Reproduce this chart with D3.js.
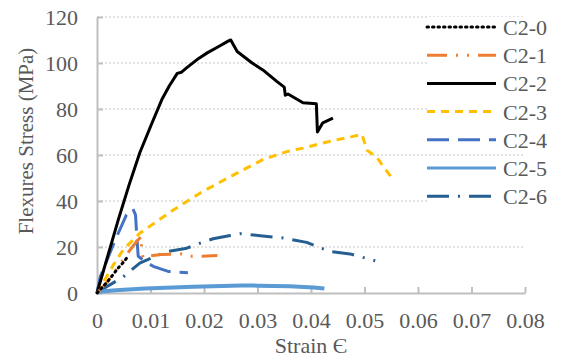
<!DOCTYPE html>
<html>
<head>
<meta charset="utf-8">
<script src="https://cdn.jsdelivr.net/npm/d3@7"></script>
<style>
  body { margin: 0; background: #fff; }
  text { font-family: "Liberation Serif", "Times New Roman", serif; fill: #595959; }
</style>
</head>
<body>
<svg width="562" height="358"></svg>
<script>
var names = ["C2-0", "C2-1", "C2-2", "C2-3", "C2-4", "C2-5", "C2-6"];
var colors = ["#000000", "#ED7D31", "#000000", "#FFC000", "#4472C4", "#5B9BD5", "#255E91"];
var dashes = ["1.5,4", "20,9,2,9,2,9", null, "8,6", "22,9", null, "22,9,2,9"];

var xTicks = [0, 0.01, 0.02, 0.03, 0.04, 0.05, 0.06, 0.07, 0.08];
var yTicks = [0, 20, 40, 60, 80, 100, 120];

/*strain, stress pairs*/
var c20 = [[0, 0], [0.001, 2.5], [0.002, 5], [0.003, 8], [0.004, 11], [0.005, 13.5], [0.0058, 16]];
var c21 = [[0, 0], [0.002, 5], [0.004, 11.6], [0.0058, 17.5], [0.0074, 22.4], [0.0083, 24.6], [0.0083, 19.7],
  [0.0086, 15.3], [0.0095, 16], [0.012, 16.7], [0.0158, 17], [0.017, 16], [0.0196, 16], [0.0225, 16.3]];
var c22 = [[0, 0], [0.002, 16], [0.004, 32], [0.006, 47], [0.008, 61], [0.0103, 74], [0.0121, 84], [0.0135, 90],
  [0.015, 95.5], [0.0158, 96], [0.0168, 98], [0.019, 102], [0.0206, 104.4], [0.023, 107.5], [0.0245, 109.5],
  [0.025, 110], [0.0262, 105], [0.029, 100], [0.031, 97], [0.0336, 92], [0.035, 89.5], [0.0352, 86],
  [0.0357, 86.5], [0.0385, 82.7], [0.041, 82.3], [0.0412, 70], [0.0422, 74], [0.0441, 76]];
var c23 = [[0, 0], [0.0011, 4.3], [0.003, 12], [0.0049, 18.8], [0.008, 26], [0.0142, 36], [0.0193, 43.5],
  [0.0249, 50.6], [0.031, 58], [0.0355, 61.5], [0.0385, 63], [0.0436, 66], [0.0477, 68], [0.0495, 69],
  [0.0505, 62], [0.0523, 59], [0.0535, 55], [0.0553, 49.5]];
var c24 = [[0, 0], [0.0006, 7], [0.0034, 23], [0.0055, 34], [0.0067, 36.6], [0.0072, 34], [0.0074, 26],
  [0.0077, 16], [0.009, 13.7], [0.0105, 11.6], [0.0133, 9.4], [0.017, 8.8]];
var c25 = [[0, 0], [0.0003, 0.5], [0.0035, 1.2], [0.009, 2], [0.018, 2.7], [0.027, 3.3], [0.03, 3.2],
  [0.036, 2.9], [0.0405, 2.4], [0.0425, 2]];
var c26 = [[0, 0], [0.002, 3], [0.0049, 7], [0.008, 13], [0.013, 18], [0.0168, 19.5], [0.0193, 21.7],
  [0.0217, 23.6], [0.0249, 25], [0.0267, 25.8], [0.0305, 24.9], [0.0348, 23.9], [0.0392, 22], [0.0413, 20.1],
  [0.0436, 18], [0.0473, 17], [0.052, 14]];
var series = [c20, c21, c22, c23, c24, c25, c26];

var svg = d3.select("svg"),
    plotLeft = 97, plotRight = 525, plotTop = 17, plotBottom = 293;

var x = d3.scaleLinear().domain([0, 0.08]).range([plotLeft, plotRight]);
var y = d3.scaleLinear().domain([0, 120]).range([plotBottom, plotTop]);

/*dotted grid*/
svg.append("g")
  .selectAll("line")
  .data(yTicks.slice(1))
  .enter().append("line")
    .attr("x1", plotLeft).attr("x2", plotRight)
    .attr("y1", function(d) { return y(d); })
    .attr("y2", function(d) { return y(d); })
    .style("stroke", "#D9D9D9")
    .style("stroke-width", 1.5)
    .style("stroke-dasharray", "2,2");

var xAxis = svg.append("g")
    .attr("transform", "translate(0," + plotBottom + ")")
    .call(d3.axisBottom(x).tickValues(xTicks).tickSizeInner(-6).tickSizeOuter(0)
      .tickFormat(function(d) { return d === 0 ? "0" : d3.format(".2f")(d); }));

var yAxis = svg.append("g")
    .attr("transform", "translate(" + plotLeft + ",0)")
    .call(d3.axisLeft(y).tickValues(yTicks).tickSizeInner(-6).tickSizeOuter(0));

[xAxis, yAxis].forEach(function(a) {
  a.attr("font-family", null).attr("font-size", null);
  a.select(".domain").style("stroke", "#BFBFBF").style("stroke-width", 2);
  a.selectAll(".tick line").style("stroke", "#BFBFBF").style("stroke-width", 2);
  a.selectAll("text").style("font-size", "22px").style("fill", "#595959");
});
xAxis.selectAll("text").attr("y", 19);
yAxis.selectAll("text").attr("x", -19);

var line = d3.line()
    .x(function(d) { return x(d[0]); })
    .y(function(d) { return y(d[1]); });

/*draw from last to first so C2-0 lands on top like the picture*/
d3.range(series.length).reverse().forEach(function(i) {
  svg.append("path")
    .datum(series[i])
    .attr("d", line)
    .style("fill", "none")
    .style("stroke", colors[i])
    .style("stroke-width", i === 5 ? 4 : 3)
    .style("stroke-linecap", i === 0 ? "round" : "butt")
    .style("stroke-linejoin", "round")
    .style("stroke-dasharray", dashes[i]);
});

/*legend*/
var legend = svg.selectAll(".legend")
  .data(names)
  .enter().append("g")
    .attr("class", "legend")
    .attr("transform", function(d, i) { return "translate(427," + (27 + i * 28.2) + ")"; });

legend.append("rect")
    .attr("x", 0).attr("y", -10).attr("width", 98).attr("height", 20)
    .style("fill", "#fff");

legend.append("line")
    .attr("x1", 0).attr("x2", 69)
    .style("stroke", function(d, i) { return colors[i]; })
    .style("stroke-width", 3)
    .style("stroke-linecap", function(d, i) { return i === 0 ? "round" : "butt"; })
    .style("stroke-dasharray", function(d, i) { return dashes[i]; });

legend.append("text")
    .attr("x", 76).attr("y", 8)
    .style("font-size", "22px")
    .text(function(d) { return d; });

svg.append("text")
    .attr("x", (plotLeft + plotRight) / 2).attr("y", 353)
    .attr("text-anchor", "middle")
    .style("font-size", "22px")
    .text("Strain Є");

svg.append("text")
    .attr("transform", "translate(33,141) rotate(-90)")
    .attr("text-anchor", "middle")
    .style("font-size", "21px")
    .text("Flexures Stress (MPa)");
</script>
</body>
</html>
